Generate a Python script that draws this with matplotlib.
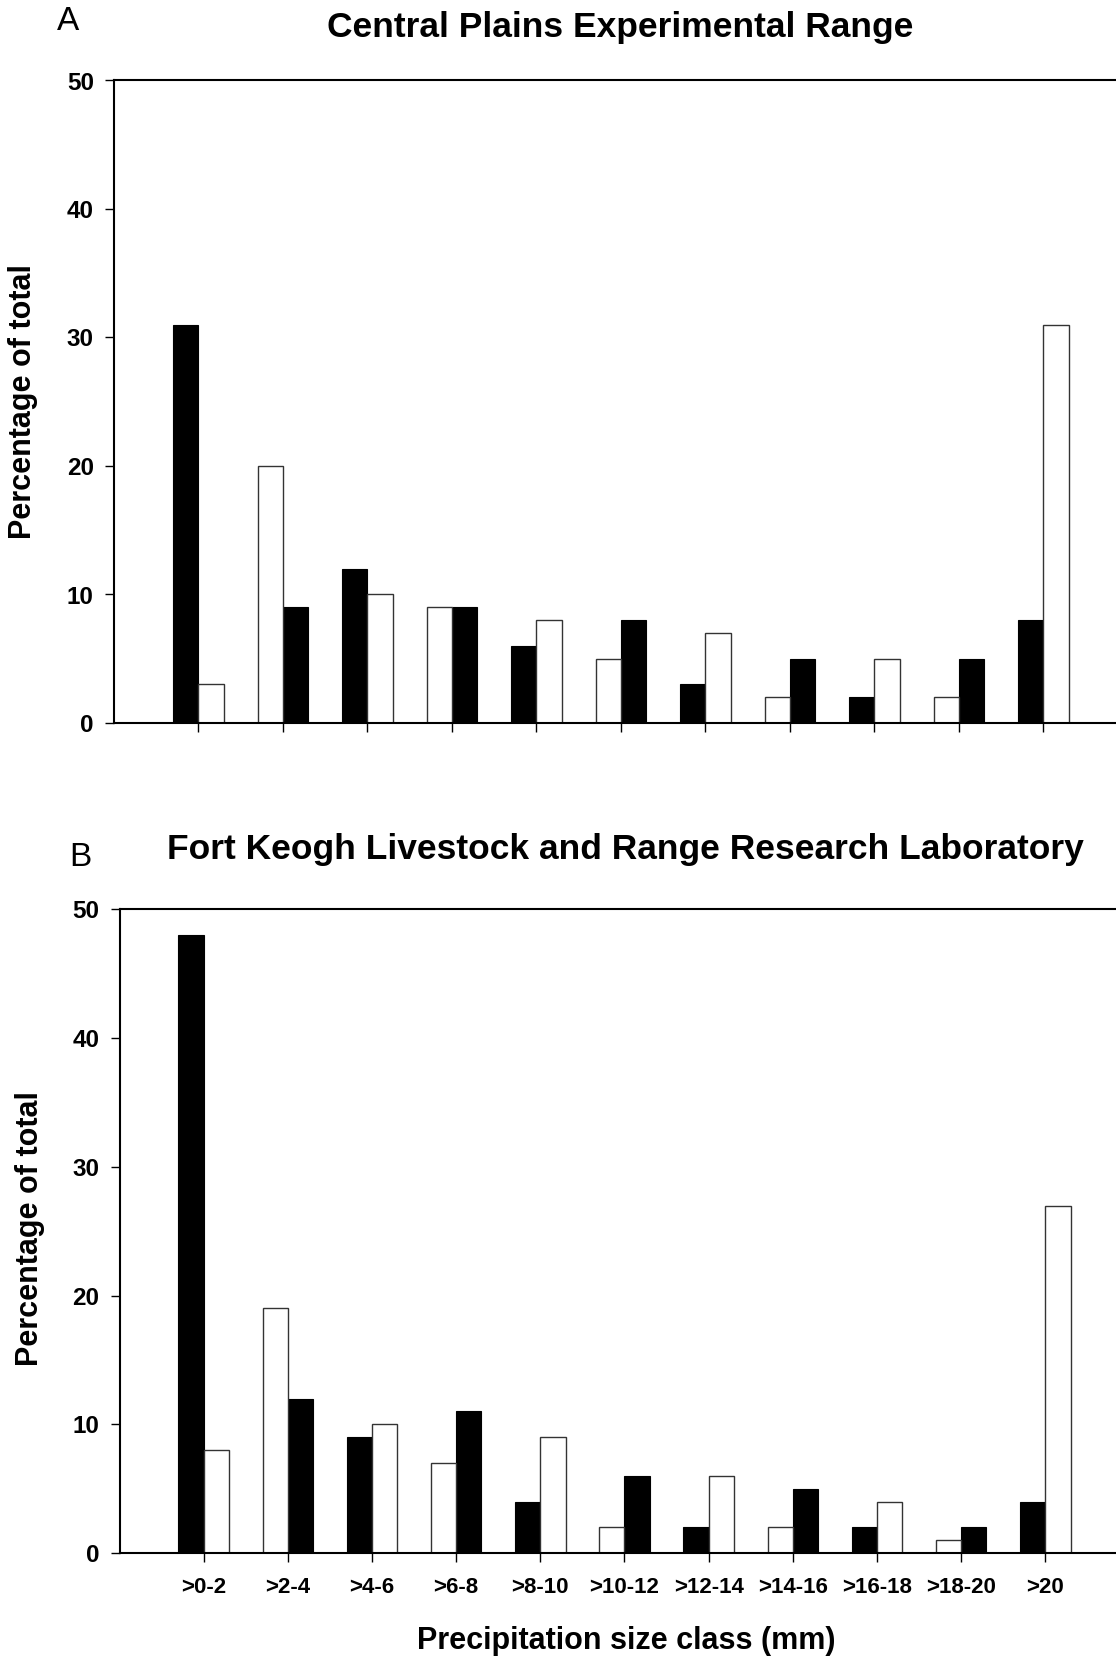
import numpy as np
import matplotlib
matplotlib.use("Agg")
import matplotlib.pyplot as plt

plt.rcParams['font.family'] = ['Liberation Sans', 'DejaVu Sans']

categories = [">0-2", ">2-4", ">4-6", ">6-8", ">8-10", ">10-12", ">12-14",
              ">14-16", ">16-18", ">18-20", ">20"]

# Panel A: Central Plains Experimental Range
black_A = [31, 9, 12, 9, 6, 8, 3, 5, 2, 5, 8]
white_A = [3, 20, 10, 9, 8, 5, 7, 2, 5, 2, 31]
# Panel B: Fort Keogh Livestock and Range Research Laboratory
black_B = [48, 12, 9, 11, 4, 6, 2, 5, 2, 2, 4]
white_B = [8, 19, 10, 7, 9, 2, 6, 2, 4, 1, 27]

title_A = "Central Plains Experimental Range"
title_B = "Fort Keogh Livestock and Range Research Laboratory"
ylabel = "Percentage of total"
xlabel = "Precipitation size class (mm)"
yticks = [0, 10, 20, 30, 40, 50]

W, H = 1116, 1660
fig = plt.figure(figsize=(W / 100, H / 100), dpi=100)

def px_axes(left, top, bottom, right=W):
    return fig.add_axes([left / W, 1 - bottom / H, (right - left) / W, (bottom - top) / H])

axA = px_axes(114, 80.5, 723)
axB = px_axes(119.5, 909.5, 1553)

bw = 0.30

def draw(ax, black, white, xmax, show_labels):
    x = np.arange(len(categories))
    # alternate: even categories black on left, odd categories white on left
    sign = np.where(x % 2 == 0, -1, 1)
    ax.bar(x + sign * bw / 2, black, width=bw, color='black', edgecolor='black', linewidth=0.8)
    ax.bar(x - sign * bw / 2, white, width=bw, color='white', edgecolor='#333333', linewidth=1.0)
    ax.set_xlim(-1.0, xmax)
    ax.set_ylim(0, 50)
    ax.set_yticks(yticks)
    ax.set_xticks(x)
    if show_labels:
        ax.set_xticklabels(categories, fontsize=16, fontweight='bold')
    else:
        ax.set_xticklabels([])
    ax.tick_params(axis='y', labelsize=17.5, direction='out', length=6.5, width=1.0, pad=8)
    ax.tick_params(axis='x', direction='out', length=6.5, width=1.0, pad=11)
    for lab in ax.get_yticklabels():
        lab.set_fontweight('bold')
    ax.spines['right'].set_visible(False)
    for s in ['left', 'bottom', 'top']:
        ax.spines[s].set_linewidth(1.5)

draw(axA, black_A, white_A, 10.86, False)
draw(axB, black_B, white_B, 10.84, True)

fig.text(620 / W, 1 - 27 / H, title_A, ha='center', va='center', fontsize=25.5, fontweight='bold')
fig.text(625 / W, 1 - 849 / H, title_B, ha='center', va='center', fontsize=25.5, fontweight='bold')
fig.text(68 / W, 1 - 22 / H, "A", ha='center', va='center', fontsize=24)
fig.text(80 / W, 1 - 857 / H, "B", ha='center', va='center', fontsize=24)
fig.text(23 / W, 1 - 402 / H, ylabel, ha='center', va='center', rotation=90, fontsize=22, fontweight='bold')
fig.text(30 / W, 1 - 1229 / H, ylabel, ha='center', va='center', rotation=90, fontsize=22, fontweight='bold')
fig.text(626 / W, 1 - 1641 / H, xlabel, ha='center', va='center', fontsize=22, fontweight='bold')

fig.savefig("out.png", dpi=100, facecolor='white')
